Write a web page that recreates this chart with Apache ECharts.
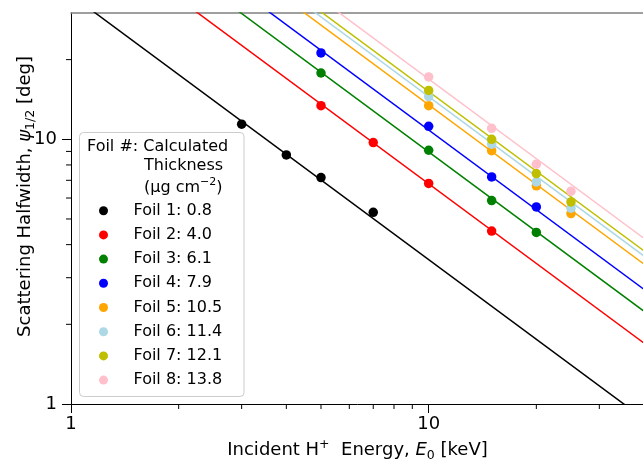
<!DOCTYPE html>
<html>
<head>
<meta charset="utf-8">
<script src="https://cdn.jsdelivr.net/npm/echarts@6/dist/echarts.min.js"></script>
<style>
  html, body { margin: 0; padding: 0; background: #fff; }
  #chart { width: 643px; height: 460px; }
</style>
</head>
<body>
<div id="chart"></div>
<script>
// Measured scattering half-widths for each foil (energy in keV, half-width in degrees)
const foilNames = ['Foil 1: 0.8', 'Foil 2: 4.0', 'Foil 3: 6.1', 'Foil 4: 7.9',
                   'Foil 5: 10.5', 'Foil 6: 11.4', 'Foil 7: 12.1', 'Foil 8: 13.8'];
const foilColors = ['#000000', '#ff0000', '#008000', '#0000ff',
                    '#ffa500', '#add8e6', '#bfbf00', '#ffc0cb'];

const energyFoil1 = [3, 4, 5, 7];
const energyFoil2 = [5, 7, 10, 15];
const energyFoil3 = [5, 10, 15, 20];
const energyFoil4 = [5, 10, 15, 20];
const energyFoil5 = [10, 15, 20, 25];
const energyFoil6 = [10, 15, 20, 25];
const energyFoil7 = [10, 15, 20, 25];
const energyFoil8 = [10, 15, 20, 25];

const widthFoil1 = [11.4, 8.73, 7.17, 5.30];
const widthFoil2 = [13.4, 9.72, 6.81, 4.50];
const widthFoil3 = [17.8, 9.09, 5.87, 4.45];
const widthFoil4 = [21.2, 11.2, 7.21, 5.55];
const widthFoil5 = [13.4, 9.06, 6.67, 5.24];
const widthFoil6 = [14.5, 9.58, 6.90, 5.49];
const widthFoil7 = [15.3, 10.0, 7.42, 5.80];
const widthFoil8 = [17.2, 11.0, 8.05, 6.37];

// Fitted power-law lines, given by their values at the two ends of the energy range
const fitEnergyRange = [1, 40];
const fitWidthAtStart = [35.1, 67.9, 89.6, 108.4, 135.0, 145.0, 151.5, 169.0];
const fitWidthAtEnd = [0.878, 1.698, 2.24, 2.71, 3.375, 3.625, 3.79, 4.225];

// Axis ranges, labelled decades and minor tick positions
const energyAxisRange = [1, 40];
const widthAxisRange = [1, 30];
const decadeLabels = [1, 10];
const energyMinorTicks = [2, 3, 4, 5, 6, 7, 8, 9, 20, 30];
const widthMinorTicks = [2, 3, 4, 5, 6, 7, 8, 9, 20];

const energies = [energyFoil1, energyFoil2, energyFoil3, energyFoil4,
                  energyFoil5, energyFoil6, energyFoil7, energyFoil8];
const widths = [widthFoil1, widthFoil2, widthFoil3, widthFoil4,
                widthFoil5, widthFoil6, widthFoil7, widthFoil8];

const FONT = 'DejaVu Sans';
const chart = echarts.init(document.getElementById('chart'), null, { renderer: 'canvas' });

const series = [];
foilNames.forEach((name, i) => {
  series.push({
    name: name + ' fit',
    type: 'line',
    xAxisIndex: 0, yAxisIndex: 0,
    data: [[fitEnergyRange[0], fitWidthAtStart[i]], [fitEnergyRange[1], fitWidthAtEnd[i]]],
    showSymbol: false,
    symbol: 'none',
    clip: true,
    silent: true,
    lineStyle: { color: foilColors[i], width: 1.5 },
    z: 2
  });
});
foilNames.forEach((name, i) => {
  series.push({
    name: name,
    type: 'scatter',
    xAxisIndex: 0, yAxisIndex: 0,
    data: energies[i].map((e, k) => [e, widths[i][k]]),
    symbol: 'circle',
    symbolSize: 9.5,
    itemStyle: { color: foilColors[i], opacity: 1 },
    z: 3
  });
});

// Minor ticks at 2..9 × 10^n, placed through the log axes
series.push({
  type: 'custom',
  silent: true,
  data: energyMinorTicks.map(v => [v, widthAxisRange[0]]),
  renderItem: (params, api) => {
    const p = api.coord([api.value(0), api.value(1)]);
    return { type: 'line', shape: { x1: p[0], y1: p[1], x2: p[0], y2: p[1] + 5 },
             style: { stroke: '#000', lineWidth: 1 } };
  },
  z: 5
});
series.push({
  type: 'custom',
  silent: true,
  data: widthMinorTicks.map(v => [energyAxisRange[0], v]),
  renderItem: (params, api) => {
    const p = api.coord([api.value(0), api.value(1)]);
    return { type: 'line', shape: { x1: p[0], y1: p[1], x2: p[0] - 5, y2: p[1] },
             style: { stroke: '#000', lineWidth: 1 } };
  },
  z: 5
});

const richName = {
  sup: { fontFamily: FONT, fontSize: 12.5, lineHeight: 12, verticalAlign: 'top', color: '#000' },
  sub: { fontFamily: FONT, fontSize: 12.5, lineHeight: 12, verticalAlign: 'bottom', color: '#000' },
  it: { fontFamily: FONT, fontSize: 18, lineHeight: 24, fontStyle: 'italic', color: '#000' },
  n: { fontFamily: FONT, fontSize: 18, lineHeight: 24, color: '#000' }
};
const richNameY = Object.assign({}, richName, {
  sub: { fontFamily: FONT, fontSize: 12.5, lineHeight: 16, verticalAlign: 'bottom', color: '#000' }
});

const decadeFormatter = v => (decadeLabels.some(d => Math.abs(d - v) < 1e-6) ? String(v) : '');

const option = {
  animation: false,
  backgroundColor: '#fff',
  grid: { left: 71, top: 13, width: 573, height: 391, containLabel: false, outerBoundsMode: 'none' },
  xAxis: [{
    type: 'log', logBase: 10,
    min: energyAxisRange[0], max: energyAxisRange[1],
    name: '{n|Incident H}{sup|+}{n|  Energy, }{it|E}{sub|0}{n| [keV]}',
    nameLocation: 'middle', nameGap: 29,
    nameTextStyle: { fontFamily: FONT, fontSize: 18, lineHeight: 24, color: '#000', rich: richName },
    axisLine: { show: true, onZero: false, lineStyle: { color: '#000', width: 1 } },
    axisTick: { show: true, inside: false, length: 9, lineStyle: { color: '#000', width: 1 } },
    axisLabel: { fontFamily: FONT, fontSize: 18, color: '#000', margin: 11,
                 showMaxLabel: false, formatter: decadeFormatter },
    splitLine: { show: false },
    minorTick: { show: false }
  }, {
    type: 'log', logBase: 10, position: 'top',
    min: energyAxisRange[0], max: energyAxisRange[1],
    axisLine: { show: true, lineStyle: { color: '#808080', width: 1.5 } },
    axisTick: { show: false }, axisLabel: { show: false }, splitLine: { show: false }
  }],
  yAxis: [{
    type: 'log', logBase: 10,
    min: widthAxisRange[0], max: widthAxisRange[1],
    name: '{n|Scattering Halfwidth, }{it|ψ}{sub|1/2}{n| [deg]}',
    nameLocation: 'middle', nameGap: 34, nameRotate: 90,
    nameMoveOverlap: false,
    nameTextStyle: { fontFamily: FONT, fontSize: 18, lineHeight: 24, color: '#000',
                     padding: [0, 0, 0, 24], rich: richNameY },
    axisLine: { show: true, onZero: false, lineStyle: { color: '#000', width: 1 } },
    axisTick: { show: true, inside: false, length: 9, lineStyle: { color: '#000', width: 1 } },
    axisLabel: { fontFamily: FONT, fontSize: 18, color: '#000', margin: 14,
                 showMaxLabel: false, formatter: decadeFormatter },
    splitLine: { show: false },
    minorTick: { show: false }
  }],
  legend: {
    data: foilNames,
    orient: 'vertical',
    left: 99, top: 202.7,
    padding: 0,
    itemWidth: 50, itemHeight: 9,
    itemGap: 8.2,
    icon: 'circle',
    textStyle: { fontFamily: FONT, fontSize: 16, lineHeight: 16, color: '#000' },
    selectedMode: false,
    z: 6
  },
  graphic: [
    {
      type: 'rect', z: 4, silent: true,
      shape: { x: 79.5, y: 132.5, width: 164.5, height: 264, r: 4 },
      style: { fill: 'rgba(255,255,255,0.85)', stroke: '#cccccc', lineWidth: 1 }
    },
    {
      type: 'text', z: 6, silent: true, left: 87, top: 139,
      style: { text: 'Foil #: Calculated', fontFamily: FONT, fontSize: 16, fill: '#000' }
    },
    {
      type: 'text', z: 6, silent: true, left: 144, top: 158,
      style: { text: 'Thickness', fontFamily: FONT, fontSize: 16, fill: '#000' }
    },
    {
      type: 'text', z: 6, silent: true, left: 144, top: 177,
      style: {
        text: '{n|(μg cm}{sup|−2}{n|)}',
        fontFamily: FONT, fontSize: 16, fill: '#000',
        rich: {
          n: { fontFamily: FONT, fontSize: 16, lineHeight: 22, color: '#000' },
          sup: { fontFamily: FONT, fontSize: 11, lineHeight: 11, verticalAlign: 'top', color: '#000' }
        }
      }
    }
  ],
  series: series
};

chart.setOption(option);
</script>
</body>
</html>
